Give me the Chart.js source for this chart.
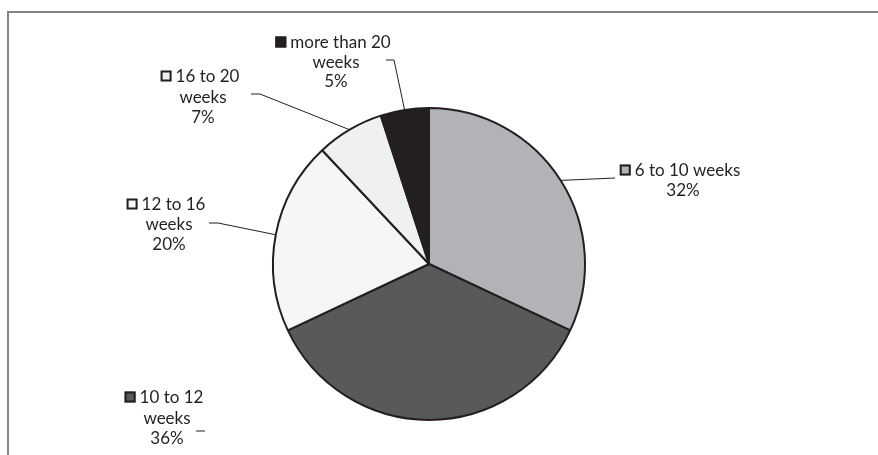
<!DOCTYPE html>
<html>
<head>
<meta charset="utf-8">
<script src="https://cdn.jsdelivr.net/npm/chart.js@4"></script>
<style>
  html, body { margin: 0; padding: 0; background: #fff; }
  #wrap { width: 878px; height: 455px; position: relative; }
</style>
</head>
<body>
<div id="wrap"><canvas id="pieChart" width="878" height="455"></canvas></div>
<script>
// duration buckets and share of each (percent)
const categories = ['6 to 10 weeks', '10 to 12 weeks', '12 to 16 weeks', '16 to 20 weeks', 'more than 20 weeks'];
const shares = [32, 36, 20, 7, 5];
const sliceColors = ['#b1b3b6', '#58595b', '#f6f6f6', '#eff0f2', '#231f20'];

// label text split over lines, as printed beside each slice
const labelLines = [
  ['6 to 10 weeks'],
  ['10 to 12', 'weeks'],
  ['12 to 16', 'weeks'],
  ['16 to 20', 'weeks'],
  ['more than 20', 'weeks']
];

// where each label block sits and how its leader line bends
const labelLayout = [
  { cx: 680, y: 170, lh: 20, leader: [[615, 178]] },
  { cx: 164, y: 397, lh: 20.5, dash: [[196, 431], [205, 431]] },
  { cx: 166, y: 204, lh: 20, leader: [[218, 223], [209, 223]] },
  { cx: 200, y: 76, lh: 20.5, leader: [[260, 94], [251, 94]] },
  { cx: 333, y: 42, lh: 19.5, leader: [[394, 60], [386, 60]] }
];

const ink = '#231f20';
const labelFont = '17px Lato';

const frameAndLabels = {
  id: 'frameAndLabels',
  beforeDraw(chart) {
    const ctx = chart.ctx;
    ctx.save();
    ctx.strokeStyle = '#858585';
    ctx.lineWidth = 2;
    ctx.beginPath();
    ctx.moveTo(8, 460);
    ctx.lineTo(8, 12);
    ctx.lineTo(880, 12);
    ctx.stroke();
    ctx.restore();
  },
  afterDraw(chart) {
    const ctx = chart.ctx;
    const arcs = chart.getDatasetMeta(0).data;
    const total = shares.reduce((a, b) => a + b, 0);
    ctx.save();
    ctx.font = labelFont;
    ctx.fillStyle = ink;
    ctx.textBaseline = 'middle';
    arcs.forEach((arc, i) => {
      const lay = labelLayout[i];
      const p = arc.getProps(['x', 'y', 'startAngle', 'endAngle', 'outerRadius'], true);
      const mid = (p.startAngle + p.endAngle) / 2;

      // leader line from the rim at the slice's middle angle
      ctx.strokeStyle = ink;
      ctx.lineWidth = 1;
      if (lay.leader) {
        ctx.beginPath();
        ctx.moveTo(p.x + Math.cos(mid) * p.outerRadius, p.y + Math.sin(mid) * p.outerRadius);
        lay.leader.forEach(pt => ctx.lineTo(pt[0], pt[1]));
        ctx.stroke();
      }
      if (lay.dash) {
        ctx.beginPath();
        ctx.moveTo(lay.dash[0][0], lay.dash[0][1]);
        ctx.lineTo(lay.dash[1][0], lay.dash[1][1]);
        ctx.stroke();
      }

      const lines = labelLines[i].slice();
      lines.push(Math.round(shares[i] / total * 100) + '%');

      // first line carries the colour key
      const key = 11, gap = 4;
      const w0 = ctx.measureText(lines[0]).width;
      const x0 = lay.cx - (key + gap + w0) / 2;
      ctx.fillStyle = sliceColors[i];
      ctx.fillRect(x0, lay.y - key / 2, key, key);
      ctx.lineWidth = 2;
      ctx.strokeRect(x0 + 1, lay.y - key / 2 + 1, key - 2, key - 2);
      ctx.fillStyle = ink;
      ctx.textAlign = 'left';
      ctx.fillText(lines[0], x0 + key + gap, lay.y + 1);

      ctx.textAlign = 'center';
      for (let k = 1; k < lines.length; k++) {
        ctx.fillText(lines[k], lay.cx + 3, lay.y + k * lay.lh + 1);
      }
    });
    ctx.restore();
  }
};

new Chart(document.getElementById('pieChart').getContext('2d'), {
  type: 'pie',
  data: {
    labels: categories,
    datasets: [{
      data: shares,
      backgroundColor: sliceColors,
      borderColor: ink,
      borderWidth: 2
    }]
  },
  options: {
    responsive: false,
    animation: false,
    layout: { padding: { left: 272, right: 292, top: 107, bottom: 34 } },
    plugins: {
      legend: { display: false },
      tooltip: { enabled: false }
    }
  },
  plugins: [frameAndLabels]
});
</script>
</body>
</html>
